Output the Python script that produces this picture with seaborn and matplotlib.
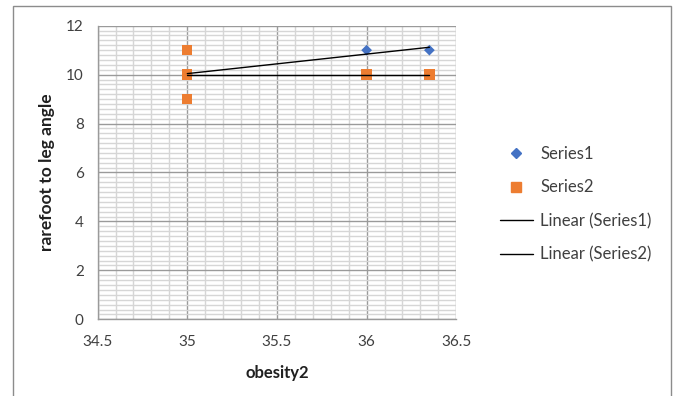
import numpy as np
import pandas as pd
import seaborn as sns
import matplotlib
matplotlib.use("Agg")
import matplotlib.pyplot as plt
from matplotlib.lines import Line2D
from matplotlib.patches import Rectangle
from matplotlib.ticker import MultipleLocator

# Data
s1_x = [35.0, 36.0, 36.35]
s1_y = [10, 11, 11]
s2_x = [35.0, 35.0, 35.0, 36.0, 36.35]
s2_y = [11, 10, 9, 10, 10]
series_names = ["Series1", "Series2"]
x_label = "obesity2"
y_label = "rarefoot to leg angle"

df1 = pd.DataFrame({"x": s1_x, "y": s1_y})
df2 = pd.DataFrame({"x": s2_x, "y": s2_y})

sns.set_theme(style="white")
plt.rcParams['font.family'] = ['Lato', 'DejaVu Sans']

blue = "#4472C4"
orange = "#ED7D31"
major_c = "#9a9a9a"
minor_c = "#d6d6d6"

fig = plt.figure(figsize=(6.78, 3.96), dpi=100)
ax = fig.add_axes([0.144, 0.1937, 0.529, 0.7414])

sns.scatterplot(data=df1, x="x", y="y", ax=ax, marker="D", s=30, color=blue,
                edgecolor="none", zorder=3)
sns.scatterplot(data=df2, x="x", y="y", ax=ax, marker="s", s=55, color=orange,
                edgecolor="none", zorder=4)
sns.regplot(data=df1, x="x", y="y", ax=ax, scatter=False, ci=None, truncate=True,
            line_kws={"color": "black", "lw": 1.0, "zorder": 5})
sns.regplot(data=df2, x="x", y="y", ax=ax, scatter=False, ci=None, truncate=True,
            line_kws={"color": "black", "lw": 1.0, "zorder": 5})

ax.set_xlim(34.5, 36.5)
ax.set_ylim(0, 12)
ax.xaxis.set_major_locator(MultipleLocator(0.5))
ax.xaxis.set_minor_locator(MultipleLocator(0.1))
ax.yaxis.set_major_locator(MultipleLocator(2))
ax.yaxis.set_minor_locator(MultipleLocator(0.2))
ax.set_xticks([34.5, 35, 35.5, 36, 36.5])
ax.set_xticklabels(["34.5", "35", "35.5", "36", "36.5"])
ax.set_yticks([0, 2, 4, 6, 8, 10, 12])
ax.set_yticklabels(["0", "2", "4", "6", "8", "10", "12"])

ax.grid(which="major", color=major_c, lw=1.0)
ax.grid(which="minor", color=minor_c, lw=1.0)
ax.set_axisbelow(True)
for sp in ["top", "right"]:
    ax.spines[sp].set_visible(False)
for sp in ["left", "bottom"]:
    ax.spines[sp].set_color(major_c)
    ax.spines[sp].set_linewidth(1.0)
ax.tick_params(axis="both", which="major", direction="out", length=4, width=1.0,
               color=major_c, labelsize=11, labelcolor="#404040")
ax.tick_params(axis="both", which="minor", length=0)
ax.tick_params(axis="x", which="major", pad=7)
ax.tick_params(axis="y", which="major", pad=6)

ax.set_xlabel(x_label, fontsize=12, fontweight="bold", color="#202020", labelpad=12)
ax.set_ylabel(y_label, fontsize=12.5, fontweight="bold", color="#202020", labelpad=8)

handles = [
    Line2D([], [], marker="D", color=blue, ls="none", markersize=5),
    Line2D([], [], marker="s", color=orange, ls="none", markersize=7),
    Line2D([], [], color="black", lw=1.0),
    Line2D([], [], color="black", lw=1.0),
]
labels = [series_names[0], series_names[1],
          f"Linear ({series_names[0]})", f"Linear ({series_names[1]})"]
fig.legend(handles, labels, loc="center left", bbox_to_anchor=(0.715, 0.484),
           frameon=False, fontsize=12, labelcolor="#404040", handlelength=2.0,
           labelspacing=1.05, handletextpad=0.42)

fig.patches.append(Rectangle((13 / 678, -0.05), (671 - 13) / 678, 1 - 6 / 396 + 0.05,
                             transform=fig.transFigure, fill=False,
                             edgecolor="#8c8c8c", lw=1.0))

fig.savefig("out.png", dpi=100)
